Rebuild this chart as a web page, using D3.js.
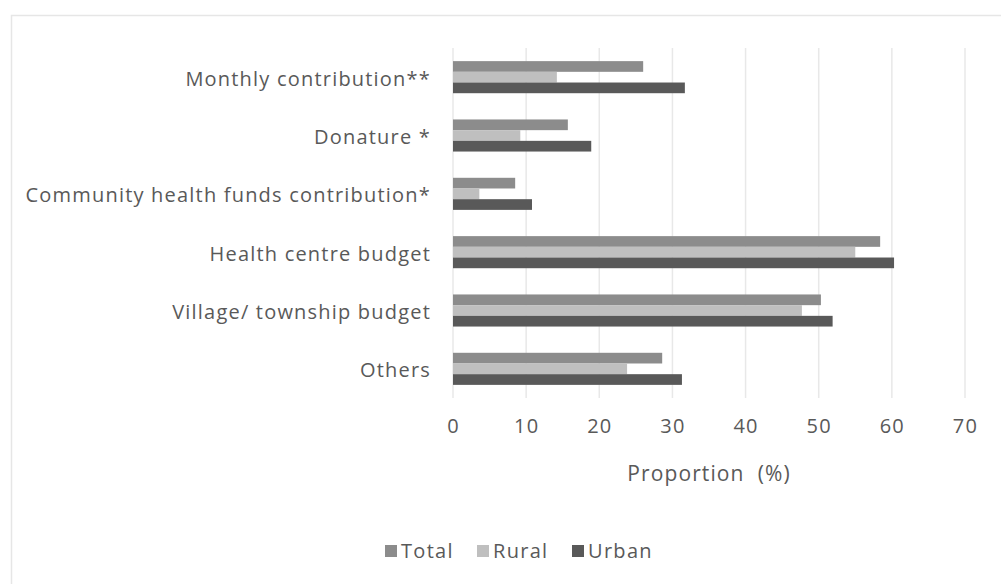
<!DOCTYPE html>
<html>
<head>
<meta charset="utf-8">
<script src="https://cdn.jsdelivr.net/npm/d3@7"></script>
<style>
html,body{margin:0;padding:0;background:#fff;}
svg text{font-family:"Open Sans",sans-serif;fill:#595959;white-space:pre;}
</style>
</head>
<body>
<svg id="chart" width="1001" height="584"></svg>
<script>
const categories = ["Monthly contribution**","Donature *","Community health funds contribution*","Health centre budget","Village/ township budget","Others"];
const seriesNames = ["Total","Rural","Urban"];
const totalValues = [26.0, 15.7, 8.5, 58.4, 50.3, 28.6];
const ruralValues = [14.2, 9.2, 3.6, 55.0, 47.7, 23.8];
const urbanValues = [31.7, 18.9, 10.8, 60.3, 51.9, 31.3];
const xTicks = [0,10,20,30,40,50,60,70];
const xTitle = "Proportion  (%)";
const colors = ["#8c8c8c","#bfbfbf","#595959"];

(function(){
const seriesValues = [totalValues, ruralValues, urbanValues];
const svg = d3.select("#chart");

// outer frame
svg.append("rect").attr("x",11.5).attr("y",15.5).attr("width",1100).attr("height",700)
  .attr("fill","none").attr("stroke","#e6e6e6").attr("stroke-width",1.5);

const pL = 453, pR = 965, pT = 48, pB = 398;
const x = d3.scaleLinear().domain([0,70]).range([pL,pR]);
const y = d3.scaleBand().domain(categories).range([pT,pB]).paddingInner(0.45).paddingOuter(0.225);
const ySub = d3.scaleBand().domain(seriesNames).range([0,y.bandwidth()]);

// gridlines
svg.append("g").selectAll("line").data(xTicks).join("line")
  .attr("x1",d=>x(d)).attr("x2",d=>x(d)).attr("y1",pT).attr("y2",pB)
  .attr("stroke","#e8e8e8").attr("stroke-width",1.5);

// bars
const groups = svg.append("g").selectAll("g").data(categories).join("g")
  .attr("transform",c=>`translate(0,${y(c)})`);
groups.selectAll("rect").data((c,i)=>seriesNames.map((s,j)=>({s,v:seriesValues[j][i],j})))
  .join("rect")
  .attr("x",x(0)).attr("y",d=>ySub(d.s)).attr("height",ySub.bandwidth())
  .attr("width",d=>x(d.v)-x(0)).attr("fill",d=>colors[d.j]);

// x axis
const xAxis = svg.append("g").attr("transform",`translate(0,${pB})`)
  .call(d3.axisBottom(x).tickValues(xTicks).tickSize(0).tickPadding(21));
xAxis.select(".domain").remove();
xAxis.selectAll("text").style("font-size","20px").style("letter-spacing","1.2px").attr("fill","#595959");

// y axis
const yAxis = svg.append("g").attr("transform",`translate(${pL},0)`)
  .call(d3.axisLeft(y).tickSize(0).tickPadding(22));
yAxis.select(".domain").remove();
yAxis.selectAll("text").style("font-size","20px").style("letter-spacing","1.2px")
  .attr("dy","0.42em").attr("fill","#595959");

// x title
svg.append("text").attr("x",(pL+pR)/2).attr("y",481).attr("text-anchor","middle")
  .style("font-size","21px").style("letter-spacing","1.1px").text(xTitle);

// legend
const legendX = [385, 477, 572];
const lg = svg.append("g").selectAll("g").data(seriesNames).join("g")
  .attr("transform",(d,i)=>`translate(${legendX[i]},545)`);
lg.append("rect").attr("width",12).attr("height",12).attr("fill",(d,i)=>colors[i]);
lg.append("text").attr("x",16).attr("y",12.5).style("font-size","20px").style("letter-spacing","1.3px").text(d=>d);
})();
</script>
</body>
</html>
